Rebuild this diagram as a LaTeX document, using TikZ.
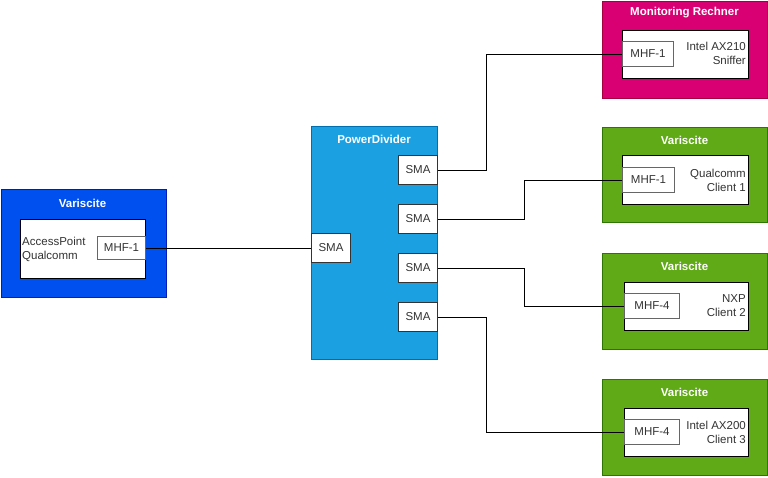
\documentclass[tikz,border=0pt]{standalone}
\usepackage{fontspec}
\setmainfont{Liberation Sans}
\definecolor{bluef}{HTML}{0050EF}
\definecolor{blued}{HTML}{001DBC}
\definecolor{pdf}{HTML}{1BA1E2}
\definecolor{pdd}{HTML}{006EAF}
\definecolor{magf}{HTML}{D80073}
\definecolor{magd}{HTML}{A50040}
\definecolor{grf}{HTML}{60A917}
\definecolor{grd}{HTML}{2D7600}
\definecolor{portd}{HTML}{666666}
\tikzset{
  outer/.style={rectangle, line width=1pt, anchor=north west, inner sep=0pt},
  innerbox/.style={rectangle, draw=black, fill=white, line width=1pt, anchor=north west, inner sep=0pt},
  port/.style={rectangle, draw=portd, fill=white, line width=1pt, anchor=north west, inner sep=0pt, font=\fontsize{11.5}{14}\selectfont, text=black!80},
  sma/.style={rectangle, draw=black!80, fill=white, line width=1pt, anchor=north west, inner sep=0pt, minimum width=39, minimum height=29, font=\fontsize{11.5}{14}\selectfont, text=black!80},
  ttl/.style={font=\bfseries\fontsize{11.5}{14}\selectfont, text=white, inner sep=0pt},
  txt/.style={font=\fontsize{11.5}{14}\selectfont, text=black!80, inner sep=0pt},
  wire/.style={draw=black, line width=0.9pt},
}
\begin{document}
\begin{tikzpicture}[x=1pt,y=-1pt]
\useasboundingbox (0,0) rectangle (768,477);
% left Variscite
\node[outer, fill=bluef, draw=blued, minimum width=165, minimum height=108] (vl) at (0.5,189) {};
\node[ttl] (vlt) at (82.5,203) {Variscite};
\node[innerbox, minimum width=125, minimum height=59] (vli) at (20,219) {};
\node[port, minimum width=48, minimum height=23] (mhfl) at (97,236) {MHF-1};
\node[txt, anchor=west, align=left] (vltx) at (22,249) {AccessPoint\\Qualcomm};
% PowerDivider
\node[outer, fill=pdf, draw=pdd, minimum width=126, minimum height=233] (pd) at (311,126) {};
\node[ttl] (pdt) at (374,139) {PowerDivider};
\node[sma] (smal) at (311,233) {SMA};
\node[sma] (sma1) at (398,155) {SMA};
\node[sma] (sma2) at (398,204) {SMA};
\node[sma] (sma3) at (398,253) {SMA};
\node[sma] (sma4) at (398,302) {SMA};
% Monitoring Rechner
\node[outer, fill=magf, draw=magd, minimum width=165, minimum height=97] (mr) at (602,0.5) {};
\node[ttl] (mrt) at (684.5,13) {Monitoring Rechner};
\node[innerbox, minimum width=126, minimum height=48] (mri) at (622,30) {};
\node[port, minimum width=51, minimum height=25] (mhfm) at (622,41) {MHF-1};
\node[txt, anchor=east, align=right] (mrtx) at (746,53) {Intel AX210\\Sniffer};
% Variscite 1
\node[outer, fill=grf, draw=grd, minimum width=165, minimum height=95] (v1) at (602,127) {};
\node[ttl] (v1t) at (684.5,140) {Variscite};
\node[innerbox, minimum width=126, minimum height=49] (v1i) at (622,155) {};
\node[port, minimum width=52, minimum height=25] (mhf1) at (622,167) {MHF-1};
\node[txt, anchor=east, align=right] (v1tx) at (746,180) {Qualcomm\\Client 1};
% Variscite 2
\node[outer, fill=grf, draw=grd, minimum width=165, minimum height=96] (v2) at (602,253) {};
\node[ttl] (v2t) at (684.5,266) {Variscite};
\node[innerbox, minimum width=124, minimum height=48] (v2i) at (624,282) {};
\node[port, minimum width=55, minimum height=25] (mhf2) at (624,293) {MHF-4};
\node[txt, anchor=east, align=right] (v2tx) at (746,306) {NXP\\Client 2};
% Variscite 3
\node[outer, fill=grf, draw=grd, minimum width=165, minimum height=96] (v3) at (602,379) {};
\node[ttl] (v3t) at (684.5,392) {Variscite};
\node[innerbox, minimum width=124, minimum height=48] (v3i) at (624,408) {};
\node[port, minimum width=55, minimum height=25] (mhf3) at (624,419) {MHF-4};
\node[txt, anchor=east, align=right] (v3tx) at (746,432) {Intel AX200\\Client 3};
% bends
\coordinate (b1) at (486,0);
\coordinate (b2) at (524,0);
% wires
\draw[wire] (mhfl.east) -- (smal.west);
\draw[wire] (sma1.east) -- (sma1.east -| b1) |- (mhfm.west);
\draw[wire] (sma2.east) -- (sma2.east -| b2) |- (mhf1.west);
\draw[wire] (sma3.east) -- (sma3.east -| b2) |- (mhf2.west);
\draw[wire] (sma4.east) -- (sma4.east -| b1) |- (mhf3.west);
\end{tikzpicture}
\end{document}
